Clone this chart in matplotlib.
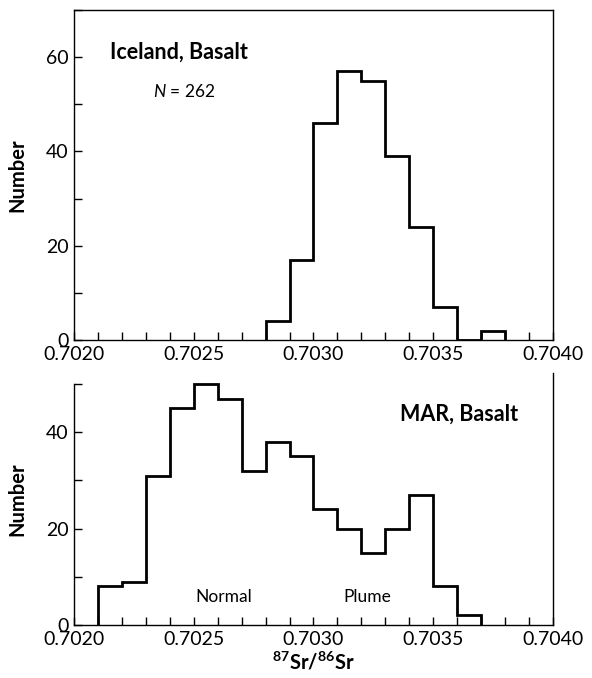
import numpy as np
import matplotlib
matplotlib.use("Agg")
import matplotlib.pyplot as plt
from matplotlib.ticker import MultipleLocator, FormatStrFormatter

plt.rcParams['font.family'] = ['Lato', 'DejaVu Sans']
plt.rcParams['mathtext.fontset'] = 'custom'
plt.rcParams['mathtext.rm'] = 'Lato'
plt.rcParams['mathtext.bf'] = 'Lato:bold'
plt.rcParams['mathtext.it'] = 'Lato:italic'

# Iceland basalt histogram
iceland_edges = [0.7028, 0.7029, 0.7030, 0.7031, 0.7032, 0.7033,
                 0.7034, 0.7035, 0.7036, 0.7037, 0.7038]
iceland_counts = [4, 17, 46, 57, 55, 39, 24, 7, 0, 2]

# MAR basalt histogram
mar_edges = [0.7021, 0.7022, 0.7023, 0.7024, 0.7025, 0.7026, 0.7027, 0.7028,
             0.7029, 0.7030, 0.7031, 0.7032, 0.7033, 0.7034, 0.7035, 0.7036, 0.7037]
mar_counts = [8, 9, 31, 45, 50, 47, 32, 38, 35, 24, 20, 15, 20, 27, 8, 2]

xlim = (0.7020, 0.7040)

fig = plt.figure(figsize=(5.92, 6.78), dpi=100)
ax1 = fig.add_axes([0.125, 0.4985, 0.809, 0.4867])
ax2 = fig.add_axes([0.125, 0.0782, 0.809, 0.3717])

def style(ax):
    ax.set_xlim(*xlim)
    ax.xaxis.set_major_locator(MultipleLocator(0.0005))
    ax.xaxis.set_minor_locator(MultipleLocator(0.0001))
    ax.xaxis.set_major_formatter(FormatStrFormatter('%.4f'))
    ax.yaxis.set_major_locator(MultipleLocator(20))
    ax.yaxis.set_minor_locator(MultipleLocator(10))
    ax.tick_params(which='both', direction='in', length=6, width=1.0,
                   top=False, right=False, labelsize=14, pad=4)
    for s in ax.spines.values():
        s.set_linewidth(1.0)
    ax.set_ylabel('Number', fontsize=14.5, fontweight='bold')
    ax.yaxis.set_label_coords(-0.097, 0.5)

ax1.stairs(iceland_counts, iceland_edges, baseline=0, color='black', lw=2.0)
style(ax1)
ax1.set_ylim(0, 70)
ax1.text(0.70215, 61.1, 'Iceland, Basalt', fontsize=15.5, fontweight='bold',
         ha='left', va='center')
ax1.text(0.70233, 52.7, r'$\mathit{N}$ = 262', fontsize=12.5, ha='left', va='center')

ax2.stairs(mar_counts, mar_edges, baseline=0, color='black', lw=2.0)
style(ax2)
ax2.set_ylim(0, 52.3)
ax2.spines['top'].set_visible(False)
ax2.spines['left'].set_bounds(0, 50)
ax2.text(0.703361, 43.7, 'MAR, Basalt', fontsize=15.5, fontweight='bold',
         ha='left', va='center')
ax2.text(0.702626, 5.8, 'Normal', fontsize=12.5, ha='center', va='center')
ax2.text(0.703223, 5.8, 'Plume', fontsize=12.5, ha='center', va='center')
ax2.set_xlabel(r'$\mathbf{^{87}Sr/^{86}Sr}$', fontsize=14.5, labelpad=2)

fig.savefig('out.png', dpi=100)
